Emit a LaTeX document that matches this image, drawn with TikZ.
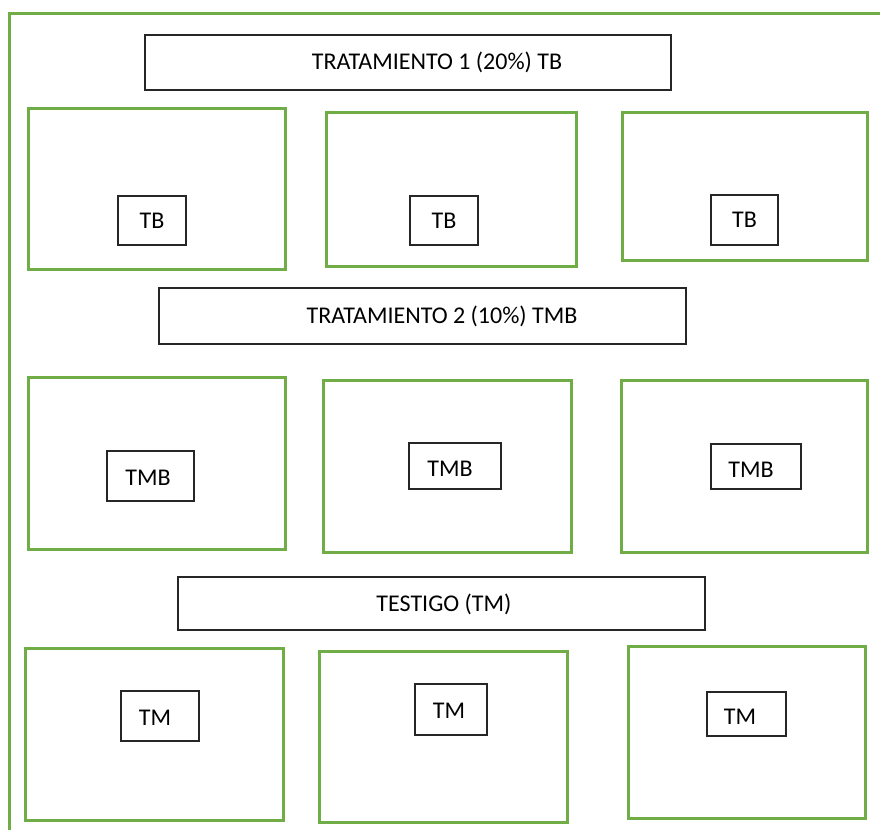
\documentclass[tikz,border=0pt]{standalone}
\usepackage{fontspec}
\setmainfont{Carlito}
\definecolor{grn}{HTML}{70AD47}
\definecolor{dk}{HTML}{262626}
\tikzset{
  gbox/.style={draw=grn,line width=3pt,inner sep=0pt,outer sep=0pt},
  kbox/.style={draw=dk,line width=1.8pt,inner sep=0pt,outer sep=0pt,font=\fontsize{24}{28}\selectfont,text=black},
  lbl/.style={inner sep=0pt,font=\fontsize{24}{28}\selectfont,text=black}
}
\begin{document}
\begin{tikzpicture}[x=1pt,y=-1pt]
\useasboundingbox (0,0) rectangle (880,830);
% outer frame (cropped)
\coordinate (fa) at (9,830);
\coordinate (fb) at (9,13);
\coordinate (fc) at (880,13);
\draw[grn,line width=3pt] (fa) -- (fb) -- (fc);
% titles
\node[kbox,minimum width=526pt,minimum height=55pt] (t1) at (408,62.5) {};
\node[lbl] (t1l) at (437,62) {TRATAMIENTO 1 (20\%) TB};
\node[kbox,minimum width=527pt,minimum height=56pt] (t2) at (422.5,316) {};
\node[lbl] (t2l) at (442,316) {TRATAMIENTO 2 (10\%) TMB};
\node[kbox,minimum width=527pt,minimum height=53pt] (t3) at (441.5,603.5) {};
\node[lbl] (t3l) at (444,604) {TESTIGO (TM)};
% row 1
\node[gbox,minimum width=257pt,minimum height=161pt] (a1) at (156.5,188.5) {};
\node[gbox,minimum width=250pt,minimum height=154pt] (b1) at (451,189) {};
\node[gbox,minimum width=245pt,minimum height=148pt] (c1) at (744.5,186) {};
\node[kbox,minimum width=68pt,minimum height=49pt,text depth=-2pt] (ia1) at (152,220.5) {TB};
\node[kbox,minimum width=68pt,minimum height=49pt,text depth=-2pt] (ib1) at (444,220.5) {TB};
\node[kbox,minimum width=67pt,minimum height=50pt,text depth=-2pt] (ic1) at (744.5,220) {TB};
% row 2
\node[gbox,minimum width=257pt,minimum height=172pt] (a2) at (156.5,463) {};
\node[gbox,minimum width=248pt,minimum height=172pt] (b2) at (447,466) {};
\node[gbox,minimum width=246pt,minimum height=172pt] (c2) at (744,466) {};
\node[kbox,minimum width=87pt,minimum height=50pt] (ia2) at (150.5,476) {};
\node[lbl] (ia2l) at (148,478) {TMB};
\node[kbox,minimum width=92pt,minimum height=46pt] (ib2) at (455,466) {};
\node[lbl] (ib2l) at (450,469) {TMB};
\node[kbox,minimum width=90pt,minimum height=45pt] (ic2) at (756,466.5) {};
\node[lbl] (ic2l) at (751,470) {TMB};
% row 3
\node[gbox,minimum width=258pt,minimum height=172pt] (a3) at (154,734) {};
\node[gbox,minimum width=248pt,minimum height=171pt] (b3) at (443,736.5) {};
\node[gbox,minimum width=237pt,minimum height=172pt] (c3) at (746.5,732) {};
\node[kbox,minimum width=78pt,minimum height=50pt] (ia3) at (160,716) {};
\node[lbl] (ia3l) at (155,718) {TM};
\node[kbox,minimum width=72pt,minimum height=51pt] (ib3) at (451,709.5) {};
\node[lbl] (ib3l) at (449,711) {TM};
\node[kbox,minimum width=79pt,minimum height=44pt] (ic3) at (746.5,714) {};
\node[lbl] (ic3l) at (740,717) {TM};
\end{tikzpicture}
\end{document}
